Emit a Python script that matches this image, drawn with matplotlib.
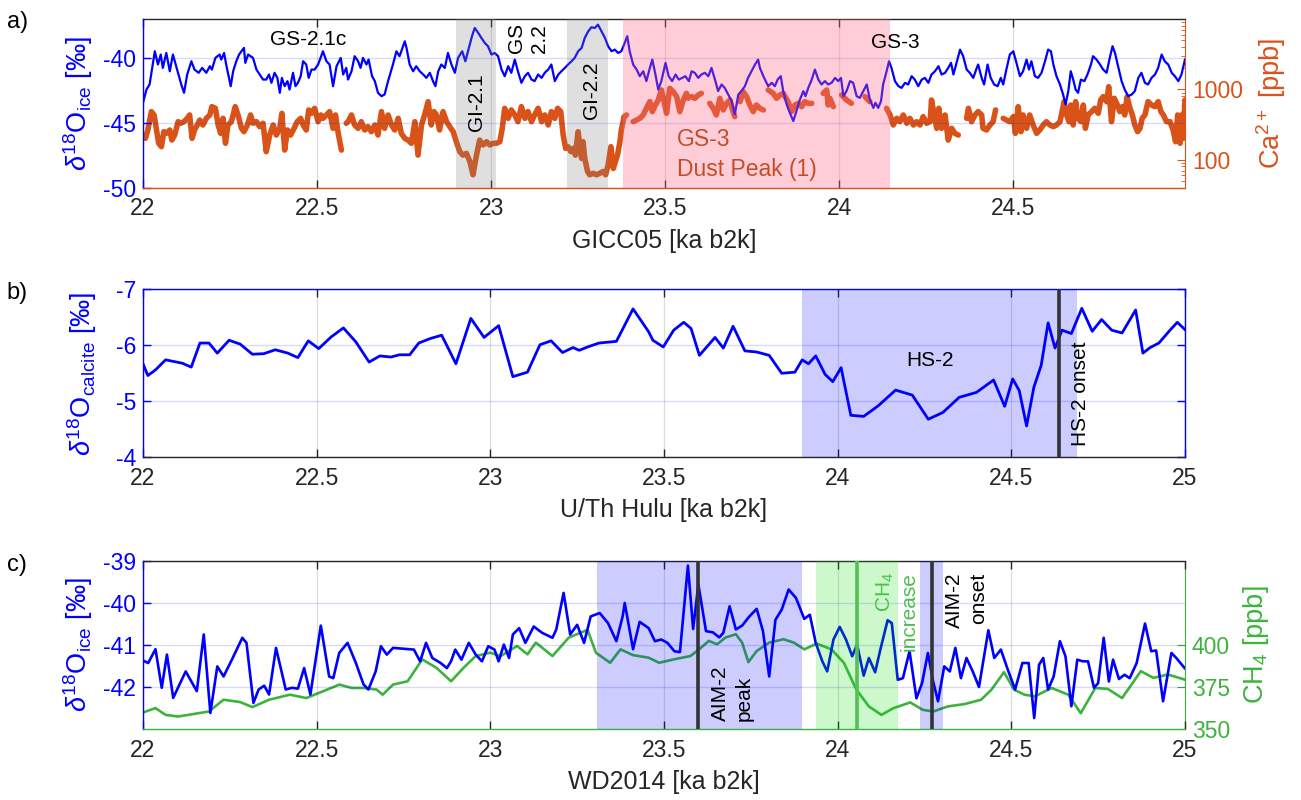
import numpy as np
import matplotlib.pyplot as plt
from matplotlib.ticker import LogLocator, NullFormatter

plt.rcParams['font.family'] = ['Liberation Sans', 'DejaVu Sans']
plt.rcParams['mathtext.fontset'] = 'custom'
plt.rcParams['mathtext.rm'] = 'Liberation Sans'
plt.rcParams['mathtext.it'] = 'Liberation Sans:italic'
plt.rcParams['mathtext.bf'] = 'Liberation Sans:bold'
plt.rcParams['axes.unicode_minus'] = False

nan = np.nan

# ---- data: (age [ka b2k], value) ----
# a) NGRIP d18O on GICC05
gicc_d18o = [
    (22.000, -43.46), (22.010, -42.44), (22.019, -42.05), (22.034, -39.49), (22.043, -40.51), (22.051, -39.74),
    (22.057, -40.77), (22.067, -39.62), (22.077, -41.03), (22.086, -39.74), (22.110, -42.05), (22.118, -42.69),
    (22.127, -41.28), (22.139, -40.26), (22.148, -40.90), (22.160, -41.15), (22.170, -40.77), (22.182, -41.15),
    (22.192, -40.64), (22.198, -40.90), (22.208, -40.00), (22.220, -39.74), (22.225, -40.13), (22.233, -39.62),
    (22.239, -40.51), (22.252, -42.18), (22.259, -41.03), (22.268, -40.26), (22.276, -39.74), (22.290, -39.23),
    (22.294, -40.38), (22.302, -39.74), (22.316, -40.00), (22.326, -40.90), (22.332, -41.15), (22.345, -41.67),
    (22.354, -41.67), (22.362, -41.28), (22.369, -41.92), (22.378, -41.15), (22.386, -41.54), (22.393, -42.69),
    (22.399, -41.54), (22.407, -42.18), (22.415, -41.79), (22.421, -42.44), (22.431, -41.15), (22.438, -42.18),
    (22.445, -41.92), (22.453, -41.41), (22.460, -40.26), (22.469, -40.51), (22.476, -41.54), (22.484, -40.90),
    (22.493, -40.90), (22.503, -40.51), (22.517, -39.49), (22.527, -40.26), (22.536, -40.51), (22.546, -42.18),
    (22.556, -40.64), (22.563, -40.26), (22.568, -40.00), (22.575, -41.28), (22.584, -40.77),
    (22.589, -41.67), (22.599, -41.03), (22.608, -39.87), (22.618, -40.26), (22.625, -40.77), (22.632, -40.00),
    (22.642, -40.51), (22.648, -40.13), (22.658, -41.41), (22.666, -41.79), (22.675, -42.69), (22.685, -42.95),
    (22.694, -42.82), (22.704, -41.79), (22.718, -40.51), (22.728, -39.49), (22.737, -39.87), (22.752, -38.72),
    (22.757, -39.23), (22.766, -40.51), (22.776, -41.03), (22.785, -40.64), (22.795, -41.03), (22.805, -41.28),
    (22.814, -41.54), (22.824, -41.15), (22.833, -41.79), (22.840, -42.18), (22.848, -41.03), (22.857, -40.51),
    (22.867, -40.77), (22.876, -39.62), (22.886, -40.51), (22.896, -41.15), (22.905, -40.00), (22.917, -39.49),
    (22.926, -40.26), (22.936, -39.23), (22.945, -38.33), (22.953, -37.69), (22.963, -38.08), (22.972, -38.46),
    (22.982, -38.85), (22.991, -39.10), (23.001, -39.74), (23.010, -39.62), (23.020, -39.87), (23.030, -40.90),
    (23.039, -41.41), (23.049, -40.64), (23.058, -41.15), (23.068, -40.13), (23.077, -41.03), (23.087, -41.92),
    (23.097, -41.41), (23.106, -41.15), (23.116, -41.67), (23.125, -41.79), (23.135, -41.28), (23.145, -41.54),
    (23.154, -41.15), (23.164, -40.90), (23.173, -40.51), (23.183, -41.79),
    (23.193, -41.28), (23.202, -41.03), (23.212, -40.77), (23.221, -40.51), (23.231, -40.26), (23.240, -40.00),
    (23.250, -39.49), (23.260, -39.23), (23.269, -38.46), (23.279, -37.95), (23.288, -37.64), (23.298, -37.69),
    (23.307, -37.44), (23.317, -37.95), (23.327, -38.46), (23.336, -39.10), (23.346, -39.49), (23.355, -39.36),
    (23.365, -39.62), (23.374, -39.49), (23.382, -38.97), (23.391, -38.33), (23.398, -39.49), (23.408, -40.51),
    (23.418, -40.90), (23.427, -41.41), (23.437, -41.03), (23.446, -41.79), (23.456, -40.77), (23.463, -40.13),
    (23.472, -41.28), (23.480, -42.44), (23.489, -41.79), (23.501, -40.38), (23.510, -41.41), (23.520, -41.79),
    (23.530, -41.28), (23.539, -41.67), (23.549, -41.54), (23.558, -41.41), (23.568, -41.79), (23.576, -41.03),
    (23.585, -41.15), (23.595, -41.54), (23.604, -41.28), (23.614, -41.15), (23.624, -41.41), (23.633, -40.77),
    (23.643, -41.67), (23.652, -42.56), (23.662, -42.05), (23.671, -42.31), (23.681, -42.82), (23.691, -43.33),
    (23.700, -44.36), (23.710, -42.82), (23.719, -42.56), (23.729, -42.18), (23.738, -41.54), (23.748, -41.03),
    (23.758, -40.51), (23.767, -40.13), (23.772, -40.77), (23.782, -41.41), (23.791, -41.92),
    (23.796, -42.18), (23.806, -41.92), (23.815, -42.18), (23.823, -41.67), (23.832, -41.41), (23.839, -42.56),
    (23.849, -43.59), (23.858, -44.23), (23.868, -44.87), (23.877, -44.10), (23.887, -43.21), (23.897, -42.56),
    (23.903, -42.95), (23.911, -42.31), (23.921, -41.67), (23.930, -40.90), (23.940, -41.67), (23.949, -42.05),
    (23.959, -41.79), (23.968, -42.05), (23.978, -41.92), (23.988, -41.54), (23.997, -41.79), (24.005, -41.54),
    (24.012, -42.95), (24.021, -42.56), (24.031, -41.79), (24.040, -41.92), (24.050, -42.95), (24.059, -43.08),
    (24.069, -42.56), (24.079, -42.05), (24.088, -43.21), (24.098, -43.85), (24.104, -43.46), (24.112, -43.85),
    (24.120, -43.33), (24.126, -42.05), (24.136, -41.03), (24.143, -40.26), (24.150, -40.77), (24.160, -41.79),
    (24.170, -42.18), (24.179, -42.31), (24.189, -41.92), (24.198, -42.05), (24.208, -41.41), (24.217, -41.67),
    (24.227, -42.18), (24.237, -41.67), (24.246, -41.54), (24.256, -41.92), (24.265, -41.28), (24.275, -41.03),
    (24.285, -40.64), (24.294, -41.28), (24.304, -41.15), (24.313, -40.77), (24.321, -40.38), (24.328, -41.28),
    (24.337, -40.38), (24.347, -39.36), (24.356, -39.87), (24.366, -40.90), (24.375, -41.15), (24.385, -41.54),
    (24.395, -40.77),
    (24.399, -40.51), (24.409, -41.54), (24.416, -42.05), (24.426, -40.51), (24.435, -41.54), (24.445, -42.05),
    (24.455, -42.18), (24.464, -41.54), (24.471, -42.05), (24.480, -40.90), (24.490, -39.74), (24.500, -39.49),
    (24.509, -40.38), (24.519, -41.41), (24.528, -41.03), (24.538, -40.13), (24.545, -40.90), (24.552, -40.26),
    (24.562, -41.41), (24.571, -41.54), (24.581, -41.15), (24.591, -40.26), (24.600, -39.36), (24.608, -39.49),
    (24.615, -40.51), (24.624, -41.41), (24.634, -42.05), (24.643, -42.82), (24.650, -43.59), (24.658, -42.56),
    (24.665, -41.03), (24.672, -41.67), (24.679, -42.44), (24.686, -42.69), (24.694, -41.67), (24.704, -41.79),
    (24.713, -41.28), (24.723, -40.51), (24.729, -39.87), (24.739, -40.13), (24.749, -40.51), (24.758, -40.90),
    (24.768, -41.15), (24.777, -40.00), (24.785, -39.10), (24.792, -39.62), (24.801, -40.64), (24.811, -41.79),
    (24.820, -42.44), (24.830, -42.95), (24.840, -42.82), (24.849, -42.56), (24.859, -41.54), (24.868, -41.15),
    (24.878, -41.92), (24.887, -42.05), (24.897, -41.54), (24.907, -41.28), (24.916, -40.77), (24.926, -39.74),
    (24.935, -40.26), (24.945, -40.51), (24.955, -41.15), (24.964, -41.41), (24.974, -41.79), (24.983, -41.28),
    (24.993, -40.13),
]

# a) NGRIP Ca2+ [ppb] (nan = data gap)
gicc_ca = [
    (22.000, 212), (22.007, 201), (22.014, 264), (22.024, 482), (22.032, 432), (22.038, 279), (22.045, 171),
    (22.053, 153), (22.060, 250), (22.067, 237), (22.077, 264), (22.083, 190), (22.091, 224), (22.101, 347),
    (22.108, 329), (22.118, 347), (22.127, 387), (22.134, 432), (22.141, 201), (22.148, 264), (22.156, 311),
    (22.163, 366), (22.172, 311), (22.182, 387), (22.192, 432), (22.198, 567), (22.208, 537), (22.216, 311),
    (22.223, 237), (22.230, 387), (22.237, 171), (22.244, 311), (22.254, 347), (22.265, 567), (22.273, 432),
    (22.283, 279), (22.290, 250), (22.300, 311), (22.309, 432), (22.316, 329), (22.326, 347), (22.335, 295),
    (22.345, 329), (22.354, 130), (22.364, 224), (22.374, 311), (22.383, 224), (22.393, 279), (22.399, 456),
    (22.407, 137), (22.415, 264), (22.424, 224), (22.434, 279), (22.443, 347), (22.453, 387), (22.460, 311),
    (22.469, 264), (22.476, 509), (22.484, 456), (22.493, 537), (22.503, 347), (22.511, 432), (22.517, 387),
    (22.527, 432), (22.536, 482), (22.546, 279), (22.553, 432), (22.560, 250), (22.570, 137), (22.577, nan),
    (22.584, 329),
    (22.589, 347), (22.599, 432), (22.608, 311), (22.618, 279), (22.627, 347), (22.637, 264), (22.646, 295),
    (22.656, 250), (22.666, 311), (22.675, 224), (22.685, 482), (22.694, 279), (22.704, 432), (22.714, 311),
    (22.723, 264), (22.733, 387), (22.742, 237), (22.752, 201), (22.761, 190), (22.771, 171), (22.781, 347),
    (22.790, 116), (22.800, 311), (22.809, 432), (22.819, 668), (22.828, 311), (22.836, 482), (22.843, 432),
    (22.852, 264), (22.862, 482), (22.872, 347), (22.881, 295), (22.891, 250), (22.900, 180), (22.910, 130),
    (22.919, 116), (22.929, 123), (22.939, 94), (22.948, 61), (22.958, 116), (22.967, 190), (22.977, 162),
    (22.987, 180), (22.996, 162), (23.006, 171), (23.015, 171), (23.025, 180), (23.032, 279), (23.039, 537),
    (23.049, 387), (23.058, 509), (23.068, 432), (23.077, 347), (23.087, 567), (23.097, 387), (23.106, 482),
    (23.116, 347), (23.125, 432), (23.135, 537), (23.145, 347), (23.154, 432), (23.164, 311), (23.173, 482),
    (23.183, 387), (23.191, 537),
    (23.200, 482), (23.207, 224), (23.214, 145), (23.221, 153), (23.229, 130), (23.236, 145), (23.242, 116),
    (23.250, 250), (23.255, 145), (23.260, 104), (23.264, 180), (23.269, 104), (23.277, 68), (23.283, 61),
    (23.293, 64), (23.303, 61), (23.312, 64), (23.322, 68), (23.329, 61), (23.336, 84), (23.344, 153),
    (23.351, 75), (23.357, 94), (23.363, 116), (23.370, 180), (23.374, 264), (23.382, 409), (23.389, 432),
    (23.398, nan), (23.408, 347), (23.418, 366), (23.427, 387), (23.437, 432), (23.446, 537), (23.456, 668),
    (23.463, 482), (23.472, 599), (23.480, 705), (23.489, 979), (23.497, 668), (23.504, 456), (23.513, 1033),
    (23.523, 926), (23.533, 787), (23.542, 482), (23.552, 705), (23.561, 877), (23.566, 745), (23.571, nan),
    (23.576, 787), (23.585, 745), (23.595, 831), (23.604, 877), (23.616, nan), (23.628, 632), (23.638, 537),
    (23.647, 432), (23.657, 745), (23.667, 509), (23.676, 632), (23.686, 705), (23.695, 482), (23.700, 409),
    (23.708, nan), (23.715, 668), (23.724, 926), (23.734, 787), (23.743, 599), (23.753, 482), (23.762, 599),
    (23.772, 537), (23.782, 509), (23.790, nan),
    (23.796, 979), (23.810, 877), (23.820, 745), (23.830, 831), (23.839, 877), (23.853, 668), (23.863, 482),
    (23.873, 599), (23.882, 632), (23.892, 567), (23.901, 668), (23.911, 632), (23.921, 632), (23.937, nan),
    (23.954, 877), (23.964, 979), (23.968, 599), (23.973, 745), (23.983, 567), (23.995, nan), (24.007, 831),
    (24.021, 705), (24.035, 632), (24.055, nan), (24.074, 787), (24.083, 705), (24.088, 668), (24.110, nan),
    (24.136, 537), (24.146, 432), (24.155, 311), (24.165, 387), (24.174, 347), (24.184, 432), (24.194, 329),
    (24.203, 387), (24.213, 311), (24.222, 347), (24.232, 311), (24.241, 409), (24.251, 329), (24.261, 347),
    (24.265, 705), (24.273, 432), (24.280, 279), (24.286, 537), (24.294, 279), (24.304, 432), (24.313, 190),
    (24.323, 279), (24.332, 237), (24.342, 224), (24.354, nan), (24.366, 387), (24.371, 537), (24.380, 347),
    (24.390, 432),
    (24.399, 482), (24.409, 432), (24.413, 279), (24.423, 264), (24.433, 311), (24.442, 347), (24.449, 509),
    (24.460, nan), (24.471, 387), (24.480, 366), (24.490, 347), (24.500, 409), (24.506, 237), (24.514, 567),
    (24.522, 250), (24.528, 432), (24.538, 279), (24.547, 432), (24.557, 311), (24.567, 237), (24.576, 264),
    (24.586, 311), (24.595, 347), (24.605, 311), (24.615, 295), (24.624, 311), (24.634, 347), (24.640, 482),
    (24.646, 668), (24.653, 432), (24.660, 347), (24.665, 599), (24.672, 311), (24.679, 668), (24.686, 387),
    (24.694, 347), (24.701, 599), (24.707, 279), (24.715, 432), (24.725, 482), (24.734, 537), (24.744, 456),
    (24.751, 705), (24.758, 787), (24.768, 668), (24.774, 1091), (24.782, 347), (24.790, 745), (24.799, 599),
    (24.806, 482), (24.813, 567), (24.820, 432), (24.827, 787), (24.835, 537), (24.842, 432), (24.849, 311),
    (24.857, 250), (24.864, 279), (24.870, 387), (24.878, 432), (24.887, 668), (24.897, 599), (24.907, 567),
    (24.916, 668), (24.924, 482), (24.931, 432), (24.940, 347), (24.950, 347), (24.959, 264), (24.966, 180),
    (24.972, 432), (24.979, 171), (24.983, 432), (24.988, 201), (24.993, 705),
]

# b) Hulu d18O calcite
hulu_d18o = [
    (22.000, -5.67), (22.014, -5.46), (22.036, -5.56), (22.065, -5.74), (22.113, -5.68), (22.139, -5.61),
    (22.164, -6.04), (22.190, -6.04), (22.214, -5.86), (22.248, -6.09), (22.280, -6.02), (22.315, -5.84),
    (22.348, -5.85), (22.381, -5.92), (22.417, -5.86), (22.446, -5.78), (22.476, -6.08), (22.506, -5.94),
    (22.542, -6.15), (22.577, -6.31), (22.613, -6.06), (22.651, -5.70), (22.682, -5.81), (22.714, -5.79),
    (22.738, -5.83), (22.768, -5.83), (22.794, -6.04), (22.827, -6.12), (22.860, -6.18), (22.901, -5.67),
    (22.944, -6.48), (22.982, -6.14), (23.024, -6.35), (23.065, -5.44), (23.107, -5.52), (23.143, -6.01),
    (23.175, -6.08), (23.208, -5.87), (23.238, -5.96), (23.256, -5.91), (23.280, -5.97), (23.313, -6.04),
    (23.363, -6.07), (23.411, -6.65), (23.456, -6.24), (23.468, -6.09), (23.498, -5.97), (23.528, -6.27),
    (23.557, -6.41), (23.578, -6.30), (23.602, -5.82), (23.647, -6.14), (23.671, -5.95), (23.699, -6.34),
    (23.733, -5.90), (23.767, -5.88), (23.803, -5.82), (23.839, -5.50), (23.877, -5.52), (23.898, -5.74),
    (23.916, -5.67), (23.937, -5.81), (23.964, -5.48), (23.986, -5.35), (24.010, -5.60), (24.038, -4.75),
    (24.075, -4.73), (24.117, -4.92), (24.167, -5.20), (24.215, -5.11), (24.261, -4.68), (24.303, -4.80),
    (24.350, -5.07), (24.400, -5.16), (24.449, -5.38), (24.481, -4.91), (24.504, -5.40), (24.523, -5.19),
    (24.544, -4.56), (24.565, -5.25), (24.586, -5.64), (24.606, -6.40), (24.626, -5.95), (24.646, -6.27),
    (24.673, -6.21), (24.703, -6.66), (24.733, -6.25), (24.760, -6.46), (24.789, -6.27), (24.819, -6.22),
    (24.858, -6.63), (24.879, -5.86), (24.900, -5.96), (24.925, -6.04), (24.957, -6.27), (24.978, -6.41),
    (25.000, -6.28),
]

# c) WAIS Divide d18O
wd_d18o = [
    (22.000, -41.37), (22.015, -41.43), (22.036, -41.10), (22.054, -42.02), (22.069, -41.23), (22.087, -42.26),
    (22.123, -41.63), (22.155, -42.10), (22.175, -40.75), (22.194, -42.62), (22.214, -41.51), (22.232, -41.75),
    (22.256, -41.35), (22.286, -40.83), (22.298, -40.95), (22.318, -42.38), (22.333, -42.06), (22.349, -41.97),
    (22.363, -42.18), (22.383, -41.07), (22.411, -42.06), (22.429, -42.02), (22.446, -42.04), (22.464, -41.55),
    (22.482, -42.18), (22.512, -40.54), (22.536, -41.75), (22.548, -41.79), (22.565, -41.19), (22.589, -40.95),
    (22.613, -41.43), (22.635, -41.94), (22.649, -42.06), (22.670, -41.63), (22.685, -41.03), (22.702, -41.23),
    (22.720, -41.07), (22.780, -41.11), (22.798, -41.39), (22.815, -40.95), (22.833, -41.31), (22.857, -41.43),
    (22.875, -41.55), (22.887, -41.39), (22.899, -41.11), (22.917, -41.35), (22.938, -40.95), (22.958, -41.23),
    (22.976, -41.39), (22.994, -41.03), (23.012, -41.11), (23.024, -41.39), (23.039, -40.99), (23.054, -41.31),
    (23.065, -40.75), (23.083, -40.60), (23.101, -40.95), (23.125, -40.56), (23.149, -40.71), (23.179, -40.83),
    (23.190, -40.63), (23.211, -39.76), (23.230, -40.75), (23.250, -40.52), (23.270, -40.95), (23.289, -40.32),
    (23.315, -40.24), (23.339, -40.48), (23.363, -40.91), (23.381, -40.32), (23.387, -40.00), (23.411, -41.10),
    (23.430, -40.45), (23.456, -40.60), (23.474, -40.91), (23.492, -40.87), (23.510, -40.95), (23.530, -41.15),
    (23.546, -41.17), (23.569, -39.11), (23.584, -40.62), (23.599, -39.56), (23.621, -40.67), (23.641, -40.70),
    (23.659, -40.82), (23.671, -40.71), (23.689, -40.08), (23.707, -40.63), (23.725, -40.54), (23.745, -40.33),
    (23.767, -40.14), (23.785, -40.67), (23.803, -41.75), (23.821, -40.40), (23.839, -40.16), (23.859, -39.68),
    (23.880, -39.88), (23.904, -40.38), (23.920, -40.28), (23.937, -40.95), (23.956, -41.39), (23.970, -41.63),
    (23.988, -40.87), (24.006, -40.57), (24.024, -40.87), (24.042, -41.27), (24.056, -40.99), (24.075, -41.73),
    (24.090, -41.31), (24.108, -41.65), (24.123, -41.11), (24.144, -40.41), (24.156, -40.48), (24.173, -41.83),
    (24.188, -41.79), (24.207, -41.15), (24.227, -42.27), (24.243, -41.91), (24.260, -41.19), (24.275, -41.87),
    (24.289, -42.34), (24.307, -41.51), (24.323, -41.63), (24.339, -41.07), (24.355, -41.79), (24.371, -41.31),
    (24.389, -41.63), (24.407, -42.00), (24.434, -40.65), (24.451, -41.31), (24.470, -41.11), (24.490, -41.59),
    (24.511, -42.06), (24.532, -41.43), (24.550, -41.43), (24.566, -42.74), (24.580, -41.47), (24.592, -41.31),
    (24.606, -42.06), (24.622, -41.75), (24.640, -40.91), (24.656, -41.27), (24.673, -42.46), (24.690, -41.35),
    (24.706, -41.39), (24.721, -41.39), (24.738, -42.02), (24.750, -41.91), (24.766, -40.83), (24.781, -41.87),
    (24.793, -41.35), (24.810, -41.81), (24.826, -41.71), (24.841, -41.79), (24.861, -41.43), (24.885, -40.49),
    (24.903, -41.15), (24.917, -41.13), (24.937, -42.34), (24.961, -41.19), (24.975, -41.31), (24.999, -41.55),
]

# c) WAIS Divide CH4 [ppb]
wd_ch4 = [
    (22.000, 359.8), (22.036, 362.4), (22.065, 358.4), (22.101, 357.4), (22.149, 359.0), (22.190, 360.4),
    (22.232, 367.4), (22.280, 366.0), (22.315, 363.0), (22.363, 367.4), (22.423, 370.4), (22.470, 368.4),
    (22.530, 373.4), (22.565, 376.4), (22.601, 374.4), (22.637, 374.4), (22.673, 373.4), (22.690, 370.4),
    (22.720, 376.4), (22.762, 378.4), (22.804, 391.4), (22.845, 386.4), (22.887, 378.4), (22.923, 386.4),
    (22.958, 393.4), (23.000, 395.4), (23.030, 393.4), (23.077, 399.4), (23.107, 394.4), (23.131, 401.4),
    (23.179, 393.4), (23.226, 404.4), (23.280, 409.0), (23.304, 395.4), (23.345, 389.4), (23.375, 397.4),
    (23.410, 394.0), (23.456, 392.4), (23.486, 389.4), (23.528, 391.4), (23.576, 393.4), (23.599, 397.0),
    (23.629, 402.4), (23.653, 400.4), (23.677, 404.4), (23.707, 406.4), (23.725, 401.4), (23.743, 389.8),
    (23.767, 396.4), (23.803, 401.4), (23.844, 403.4), (23.874, 401.4), (23.904, 397.4), (23.940, 400.8),
    (23.982, 397.4), (24.018, 389.4), (24.054, 373.4), (24.090, 363.4), (24.126, 358.4), (24.161, 362.4),
    (24.209, 365.8), (24.245, 361.4), (24.275, 360.4), (24.317, 363.4), (24.365, 364.8), (24.413, 367.4),
    (24.443, 373.4), (24.479, 383.8), (24.508, 373.4), (24.538, 370.4), (24.568, 369.4), (24.616, 374.4),
    (24.664, 370.4), (24.700, 359.4), (24.742, 374.4), (24.778, 373.8), (24.819, 368.4), (24.873, 384.4),
    (24.909, 380.4), (24.951, 382.4), (24.999, 379.4),
]

# shaded intervals and markers
a_gi_bands = [(22.900, 23.015), (23.218, 23.336)]
a_dust_band = (23.378, 24.147)
b_hs2_band = (23.898, 24.690)
b_hs2_onset = 24.638
c_aim2_bands = [(23.307, 23.898), (24.236, 24.303)]
c_ch4_band = (23.938, 24.173)
c_aim2_lines = [23.597, 24.271]
c_ch4_line = 24.056

tick_ages = [22, 22.5, 23, 23.5, 24, 24.5, 25]
tick_labels = ['22', '22.5', '23', '23.5', '24', '24.5', '25']

BLUE = '#0000ff'
ORANGE = '#d95319'
GREEN = '#3db33d'
GREEN_TXT = '#4cbf4c'
DARK = '#262626'
TICK_FS = 16.5
LABEL_FS = 18
YLABEL_FS = 19.5
ANN_FS = 15

fig = plt.figure(figsize=(13.01, 8), dpi=100)


def base_axes(rect, left_c, bottom_c, top_c, right_c):
    ax = fig.add_axes(rect)
    ax.spines['left'].set_color(left_c)
    ax.spines['bottom'].set_color(bottom_c)
    ax.spines['top'].set_color(top_c)
    ax.spines['right'].set_color(right_c)
    for s in ax.spines.values():
        s.set_linewidth(1.0)
    ax.set_xlim(22, 25)
    ax.set_xticks(tick_ages)
    ax.set_xticklabels(tick_labels)
    ax.tick_params(axis='x', direction='in', top=True, bottom=True, length=6, width=1,
                   color=DARK, labelcolor=DARK, labelsize=TICK_FS, pad=7)
    ax.tick_params(axis='y', direction='in', length=6, width=1, color=left_c,
                   labelcolor=left_c, labelsize=TICK_FS, pad=5)
    ax.grid(True, axis='x', color=DARK, alpha=0.15, lw=1)
    ax.grid(True, axis='y', color=BLUE, alpha=0.15, lw=1)
    ax.set_axisbelow(True)
    return ax


def twin_right(ax, color):
    axr = ax.twinx()
    ax.set_zorder(axr.get_zorder() + 1)
    ax.patch.set_visible(False)
    for side in ['left', 'top', 'bottom']:
        axr.spines[side].set_visible(False)
    ax.spines['right'].set_visible(False)
    axr.spines['right'].set_color(color)
    axr.tick_params(axis='y', which='both', direction='in', color=color, labelcolor=color,
                    labelsize=TICK_FS, pad=5)
    axr.tick_params(axis='y', which='major', length=6)
    axr.tick_params(axis='y', which='minor', length=3)
    return axr


d18o_label = r'$\delta^{18}$O$_{\mathregular{%s}}$ [‰]'

# ---------------- a) ----------------
axa = base_axes([0.1099, 0.7654, 0.8009, 0.2109], BLUE, ORANGE, DARK, ORANGE)
axa_r = twin_right(axa, ORANGE)

age, val = np.array(gicc_ca).T
axa_r.plot(age, val, color=ORANGE, lw=4, solid_capstyle='round', solid_joinstyle='round')
axa_r.set_yscale('log')
axa_r.set_ylim(40, 10000)
axa_r.set_yticks([100, 1000])
axa_r.set_yticklabels(['100', '1000'])
axa_r.yaxis.set_minor_locator(LogLocator(base=10, subs=np.arange(2, 10)))
axa_r.yaxis.set_minor_formatter(NullFormatter())
axa_r.set_ylabel(r'Ca$^{2+}$ [ppb]', color=ORANGE, fontsize=YLABEL_FS, labelpad=8)

age, val = np.array(gicc_d18o).T
axa.plot(age, val, color=BLUE, lw=1.6)
axa.set_xlim(22, 24.993)
axa.set_xticks(tick_ages[:-1])
axa.set_xticklabels(tick_labels[:-1])
axa.set_ylim(-50, -37)
axa.set_yticks([-50, -45, -40])
axa.set_ylabel(d18o_label % 'ice', color=BLUE, fontsize=YLABEL_FS, labelpad=6)
axa.set_xlabel('GICC05 [ka b2k]', color=DARK, fontsize=LABEL_FS, labelpad=6)

for x0, x1 in a_gi_bands:
    axa.axvspan(x0, x1, color='#808080', alpha=0.25, lw=0, zorder=3)
axa.axvspan(*a_dust_band, color='#ff6688', alpha=0.32, lw=0, zorder=3)

axa.text(22.474, -38.6, 'GS-2.1c', fontsize=ANN_FS, ha='center', va='center', color='k', zorder=5)
axa.text(23.106, -38.5, 'GS\n2.2', fontsize=ANN_FS, ha='center', va='center', rotation=90,
         color='k', zorder=5, linespacing=1.3)
axa.text(22.958, -43.4, 'GI-2.1', fontsize=ANN_FS, ha='center', va='center', rotation=90, zorder=5)
axa.text(23.288, -42.5, 'GI-2.2', fontsize=ANN_FS, ha='center', va='center', rotation=90, zorder=5)
axa.text(24.162, -38.85, 'GS-3', fontsize=ANN_FS, ha='center', va='center', zorder=5)
axa.text(23.533, -47.45, 'GS-3\nDust Peak (1)', fontsize=ANN_FS + 1.5, ha='left', va='center',
         color='#c24e28', linespacing=1.35, zorder=5)

# ---------------- b) ----------------
axb = base_axes([0.1099, 0.4284, 0.8009, 0.21], BLUE, DARK, BLUE, BLUE)
axb.tick_params(axis='y', right=True)
age, val = np.array(hulu_d18o).T
axb.plot(age, val, color=BLUE, lw=2)
axb.set_ylim(-4, -7)
axb.set_yticks([-7, -6, -5, -4])
axb.set_ylabel(d18o_label % 'calcite', color=BLUE, fontsize=YLABEL_FS, labelpad=12)
axb.set_xlabel('U/Th Hulu [ka b2k]', color=DARK, fontsize=LABEL_FS, labelpad=6)
axb.axvspan(*b_hs2_band, color=BLUE, alpha=0.2, lw=0, zorder=3)
axb.axvline(b_hs2_onset, color='#333333', lw=2.6, zorder=4)
axb.text(24.266, -5.72, 'HS-2', fontsize=ANN_FS, ha='center', va='center', zorder=5)
axb.text(24.699, -5.13, 'HS-2 onset', fontsize=ANN_FS, ha='center', va='center', rotation=90, zorder=5)

# ---------------- c) ----------------
axc = base_axes([0.1099, 0.0888, 0.8009, 0.21], BLUE, GREEN, DARK, GREEN)
axc_r = twin_right(axc, GREEN)
age, val = np.array(wd_ch4).T
axc_r.plot(age, val, color=GREEN, lw=1.9)
axc_r.set_ylim(350, 450)
axc_r.set_yticks([350, 375, 400])
axc_r.set_ylabel(r'CH$_4$ [ppb]', color=GREEN, fontsize=YLABEL_FS, labelpad=8)

age, val = np.array(wd_d18o).T
axc.plot(age, val, color=BLUE, lw=1.9)
axc.set_ylim(-43, -39)
axc.set_yticks([-42, -41, -40, -39])
axc.set_ylabel(d18o_label % 'ice', color=BLUE, fontsize=YLABEL_FS, labelpad=6)
axc.set_xlabel('WD2014 [ka b2k]', color=DARK, fontsize=LABEL_FS, labelpad=6)

for x0, x1 in c_aim2_bands:
    axc.axvspan(x0, x1, color=BLUE, alpha=0.2, lw=0, zorder=3)
axc.axvspan(*c_ch4_band, color='#00dd00', alpha=0.2, lw=0, zorder=3)
for x in c_aim2_lines:
    axc.axvline(x, color='#333333', lw=2.6, zorder=4)
axc.axvline(c_ch4_line, color='#55c055', lw=2.6, zorder=4)

axc.text(23.697, -42.8, 'AIM-2\npeak', fontsize=ANN_FS, ha='center', va='bottom', rotation=90,
         multialignment='left', linespacing=1.3, zorder=5)
axc.text(24.17, -39.27, 'CH$_4$\nincrease', fontsize=ANN_FS, ha='center', va='top', rotation=90,
         multialignment='right', linespacing=1.3, color=GREEN_TXT, zorder=5)
axc.text(24.371, -39.27, 'AIM-2\nonset', fontsize=ANN_FS, ha='center', va='top', rotation=90,
         multialignment='right', linespacing=1.3, zorder=5)

# panel letters
fig.text(0.005, 0.972, 'a)', fontsize=17, color='k', va='center')
fig.text(0.005, 0.634, 'b)', fontsize=17, color='k', va='center')
fig.text(0.005, 0.294, 'c)', fontsize=17, color='k', va='center')

fig.savefig('out.png', dpi=100)
